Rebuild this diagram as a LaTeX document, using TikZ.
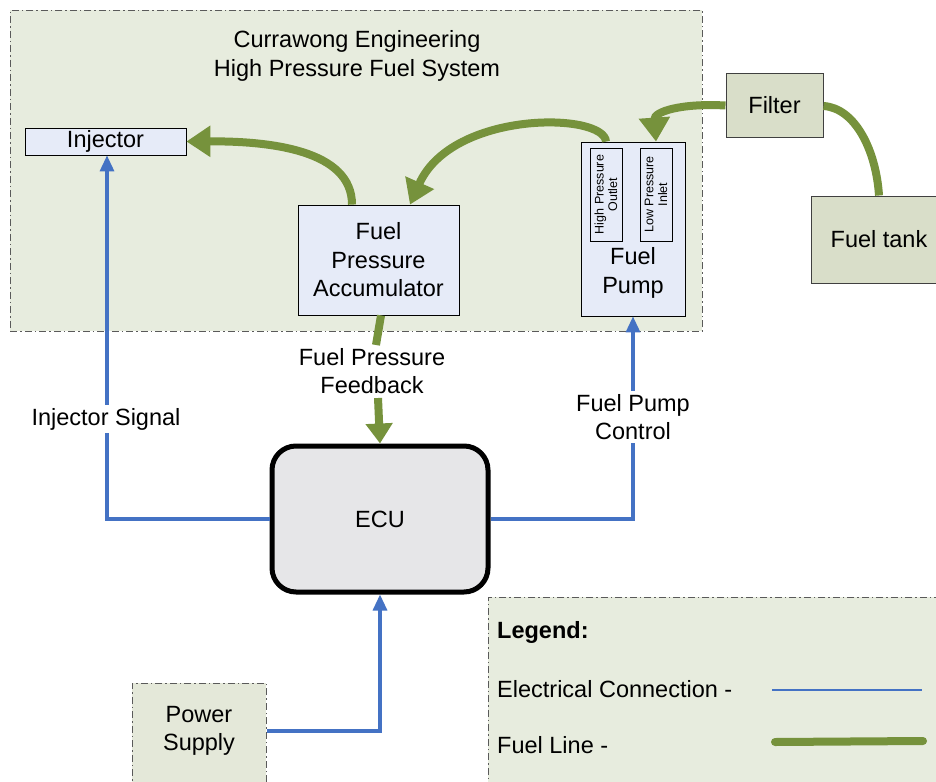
\documentclass[tikz,border=0pt]{standalone}
\usepackage{fontspec}
\setmainfont{Liberation Sans}
\usetikzlibrary{arrows.meta}
\definecolor{fuelgreen}{HTML}{76923C}
\definecolor{elecblue}{HTML}{4472C4}
\definecolor{regionfill}{HTML}{E7ECDE}
\definecolor{boxblue}{HTML}{E6EBF8}
\definecolor{olivebox}{HTML}{D9DEC9}
\definecolor{ecufill}{HTML}{E6E6E8}
\definecolor{dashgray}{HTML}{5A5A5A}
\begin{document}
\begin{tikzpicture}[x=1pt,y=-1pt,
  txt/.style={font=\fontsize{23.5}{28.5}\selectfont, align=center, inner sep=0pt},
  smalltxt/.style={font=\fontsize{12.5}{13.5}\selectfont, align=center, inner sep=0pt},
  region/.style={draw=dashgray, line width=0.9pt, dash pattern=on 7pt off 3pt on 1.5pt off 3pt},
  bluebox/.style={draw=black, line width=0.8pt, fill=boxblue},
  olive/.style={draw=black!75, line width=1pt, fill=olivebox},
  fuel/.style={draw=fuelgreen, line width=8pt},
  fuelarrow/.style={fuel, -{Triangle[length=24pt,width=30pt]}},
  elec/.style={draw=elecblue, line width=3.2pt},
  elecarrow/.style={elec, -{Triangle[length=16pt,width=14pt]}}
]
\useasboundingbox (0,0) rectangle (936,781);
\fill[white] (0,0) rectangle (936,781);

% high pressure region
\node[region, fill=regionfill, minimum width=692pt, minimum height=321pt, inner sep=0pt, anchor=north west] (hp) at (10,10) {};
\node[txt] (title) at (357,56) {Currawong Engineering\\High Pressure Fuel System};

% boxes
\node[bluebox, txt, minimum width=161pt, minimum height=27pt] (inj) at (105.5,141.5) {Injector};
\node[bluebox, txt, minimum width=161pt, minimum height=110pt] (acc) at (378.5,260) {Fuel\\Pressure\\Accumulator};
\node[bluebox, minimum width=104pt, minimum height=174pt, inner sep=0pt] (pump) at (633,229) {};
\node[txt] (pumptext) at (633,273) {Fuel\\Pump};
\node[draw=black, line width=0.8pt, fill=boxblue, minimum width=32pt, minimum height=93pt, inner sep=0pt] (hpout) at (606,194.5) {};
\node[smalltxt, rotate=90] (hpouttext) at (606,194.5) {High Pressure\\Outlet};
\node[draw=black, line width=0.8pt, fill=boxblue, minimum width=32pt, minimum height=93pt, inner sep=0pt] (lpin) at (656,194.5) {};
\node[smalltxt, rotate=90] (lpintext) at (656,194.5) {Low Pressure\\Inlet};

\node[olive, txt, minimum width=97pt, minimum height=63pt] (filter) at (774.5,105.5) {Filter};
\node[olive, minimum width=136pt, minimum height=87pt, inner sep=0pt] (tank) at (879,239.5) {};
\node[txt] (tanktext) at (879,239.5) {Fuel tank};

\node[draw=black, line width=5pt, fill=ecufill, rounded corners=24pt, minimum width=216pt, minimum height=146pt, txt] (ecu) at (380,519) {ECU};

\node[region, fill=olivebox!70!white, minimum width=134pt, minimum height=110pt, inner sep=0pt, anchor=north west] (power) at (132,683) {};
\node[txt] (powertext) at (199,731) {Power\\Supply};

% legend
\node[region, fill=regionfill, minimum width=460pt, minimum height=200pt, inner sep=0pt, anchor=north west] (legend) at (488,597) {};
\node[txt, anchor=west, font=\fontsize{23.5}{28.5}\selectfont\bfseries] (legtitle) at (497,632) {Legend:};
\node[txt, anchor=west] (legelec) at (497,689) {Electrical Connection -};
\node[txt, anchor=west] (legfuel) at (497,745) {Fuel Line -};
\coordinate (le1) at (772,690);
\coordinate (le2) at (922,690);
\coordinate (lf1) at (775,742);
\coordinate (lf2) at (923,741);
\draw[elec, line width=2.6pt] (le1) -- (le2);
\draw[fuel, line cap=round] (lf1) -- (lf2);

% fuel lines
\draw[fuelarrow] (acc.north -| 352,0) .. controls (352,150) and (270,141) .. (inj.east);
\draw[fuelarrow] (hpout.north |- pump.north) .. controls (604,112) and (452,110) .. (acc.north -| 410,0);
\draw[fuelarrow] (filter.west) .. controls (680,103) and (654,112) .. (lpin.north |- pump.north);
\draw[fuel] (tank.north) .. controls (876,150) and (855,108) .. (filter.east |- 0,106);

% fuel pressure feedback
\draw[fuel] (acc.south -| 381,0) -- (376,345);
\node[txt, fill=white, inner sep=1pt] (fpf) at (372,371) {Fuel Pressure\\Feedback};
\draw[fuelarrow, -{Triangle[length=20pt,width=26pt]}] (378,398) -- (ecu.north);

% electrical connections
\coordinate (injcorner) at (107,519);
\draw[elecarrow] (ecu.west) -- (injcorner) -- (inj.south -| injcorner);
\node[txt, fill=white, inner sep=3pt] (injsig) at (106,419) {Injector Signal};

\coordinate (pumpcorner) at (633,519);
\draw[elecarrow] (ecu.east) -- (pumpcorner) -- (pump.south);
\node[txt, fill=white, inner sep=3pt] (pumpctl) at (633,417) {Fuel Pump\\Control};

\coordinate (powcorner) at (380,731);
\draw[elecarrow] (power.east |- powcorner) -- (powcorner) -- (ecu.south);
\end{tikzpicture}
\end{document}
